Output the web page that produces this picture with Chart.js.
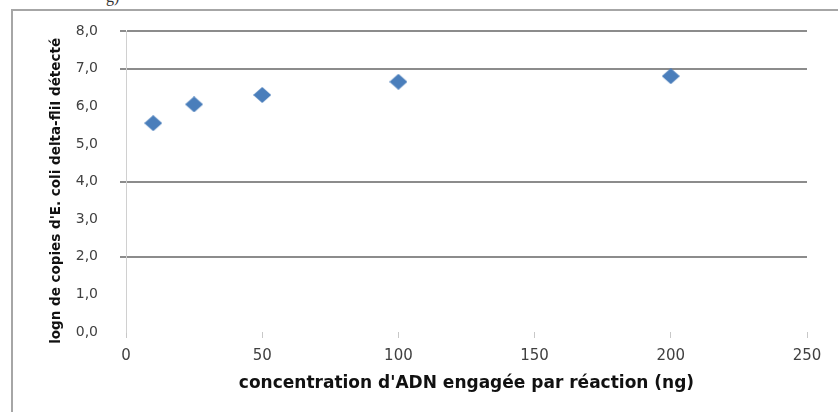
<!DOCTYPE html>
<html>
<head>
<meta charset="utf-8">
<script src="https://cdn.jsdelivr.net/npm/chart.js@4/dist/chart.umd.min.js"></script>
<style>
  html, body { margin: 0; padding: 0; background: #fff; }
  #wrap { position: relative; width: 838px; height: 412px; overflow: hidden; }
  #frame { position: absolute; left: 11px; top: 9px; width: 900px; height: 500px;
           border-left: 2px solid #a6a6a6; border-top: 2px solid #a6a6a6; }
  #clip { position: absolute; left: 106px; top: -12px; font: 16px 'Liberation Serif', serif; color: #333; }
  #chart-box { position: absolute; left: 0; top: 0; width: 838px; height: 412px; }
</style>
</head>
<body>
<div id="wrap">
  <div id="clip">g)</div>
  <div id="frame"></div>
  <div id="chart-box"><canvas id="c"></canvas></div>
</div>
<script>
// ─── data ───
const concentrations = [10, 25, 50, 100, 200];          // ng d'ADN par réaction
const logCopies      = [5.55, 6.05, 6.3, 6.65, 6.8];     // log n copies détectées
const xTitle = "concentration d'ADN engagée par réaction (ng)";
// trailing spaces nudge the rotated title a little lower, as in the picture
const yTitle = "logn de copies d'E. coli delta-fliI détecté    ";

// gridlines that survived in the reference picture
const shownGrid = [2, 4, 7, 8];

// Excel-like diamond marker, a touch wider than tall
function diamond(w, h, color) {
  const cv = document.createElement('canvas');
  cv.width = w; cv.height = h;
  const g = cv.getContext('2d');
  g.fillStyle = color;
  g.beginPath();
  g.moveTo(w / 2, 0); g.lineTo(w, h / 2); g.lineTo(w / 2, h); g.lineTo(0, h / 2);
  g.closePath(); g.fill();
  return cv;
}

const FAMILY = "'DejaVu Sans', Verdana, sans-serif";

new Chart(document.getElementById('c').getContext('2d'), {
  type: 'scatter',
  data: {
    datasets: [{
      data: concentrations.map((x, i) => ({ x, y: logCopies[i] })),
      pointStyle: diamond(18, 16, '#4a7ebb'),
      pointRadius: 9,
      pointHoverRadius: 9
    }]
  },
  options: {
    responsive: true,
    maintainAspectRatio: false,
    animation: false,
    layout: { padding: { top: 31, right: 31, left: 0, bottom: 0 } },
    plugins: { legend: { display: false }, tooltip: { enabled: false } },
    scales: {
      x: {
        type: 'linear', min: 0, max: 250,
        ticks: { stepSize: 50, color: '#404040', font: { family: FAMILY, size: 15 }, padding: 9 },
        grid: { drawOnChartArea: false, color: '#c8c8c8', tickLength: 6 },
        border: { display: false },
        title: { display: true, text: xTitle, color: '#111',
                 font: { family: FAMILY, size: 17, weight: 'bold' },
                 padding: { top: 0, bottom: 18 } },
        afterFit: s => { s.height = 80; }
      },
      y: {
        min: 0, max: 8,
        ticks: { stepSize: 1, color: '#404040', font: { family: FAMILY, size: 14 }, padding: 22,
                 callback: v => v.toFixed(1).replace('.', ',') },
        grid: {
          tickLength: 6, lineWidth: 2,
          color: c => shownGrid.includes(c.tick && c.tick.value) ? '#8c8c8c' : 'rgba(0,0,0,0)'
        },
        border: { display: true, color: '#d0d0d0', width: 1 },
        title: { display: true, text: yTitle, color: '#111',
                 font: { family: FAMILY, size: 13.5, weight: 'bold' },
                 padding: { top: 48, bottom: 0 } },
        afterFit: s => { s.width = 126; }
      }
    }
  }
});
</script>
</body>
</html>
